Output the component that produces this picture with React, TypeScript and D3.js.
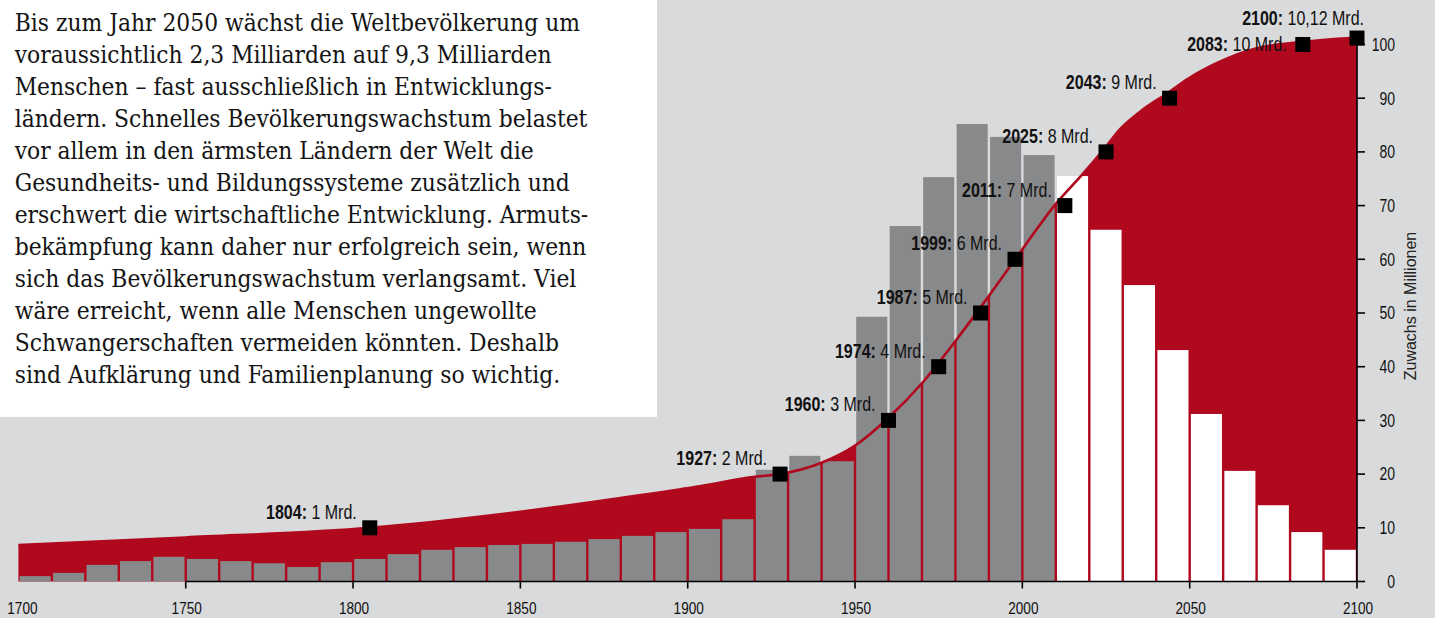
import { useEffect } from 'react';
import * as d3 from 'd3';

// Jährlicher Zuwachs je Jahrzehnt (Mio.), ab 2010 Projektion
const decades = [
  1700, 1710, 1720, 1730, 1740, 1750, 1760, 1770, 1780, 1790,
  1800, 1810, 1820, 1830, 1840, 1850, 1860, 1870, 1880, 1890,
  1900, 1910, 1920, 1930, 1940, 1950, 1960, 1970, 1980, 1990,
  2000, 2010, 2020, 2030, 2040, 2050, 2060, 2070, 2080, 2090,
];
const growth = [
  1.0, 1.6, 3.1, 3.8, 4.6, 4.2, 3.8, 3.4, 2.7, 3.6,
  4.2, 5.1, 5.9, 6.4, 6.8, 7.0, 7.4, 7.9, 8.5, 9.2,
  9.8, 11.6, 20.8, 23.4, 22.4, 49.3, 66.2, 75.3, 85.2, 82.8,
  79.4, 75.5, 65.5, 55.2, 43.1, 31.2, 20.6, 14.2, 9.2, 5.9,
];
const projectionStart = 2010;

// Weltbevölkerung (Mrd.)
const popYears = [
  1700, 1750, 1805, 1850, 1886, 1904, 1920, 1927.6, 1940, 1950, 1960,
  1970.4, 1979.9, 1989.8, 1999.8, 2009.7, 2018.2, 2025, 2029, 2035,
  2044, 2049, 2058, 2070, 2081, 2100,
];
const popValues = [
  0.68, 0.82, 1.0, 1.3, 1.61, 1.78, 1.95, 2.0, 2.21, 2.53, 3.05,
  3.72, 4.47, 5.3, 6.17, 7.01, 7.6, 8.1, 8.41, 8.74,
  9.12, 9.34, 9.65, 9.93, 10.03, 10.13,
];

// Meilensteine
const milestoneYears = ['1804', '1927', '1960', '1974', '1987', '1999', '2011', '2025', '2043', '2083', '2100'];
const milestoneText = ['1 Mrd.', '2 Mrd.', '3 Mrd.', '4 Mrd.', '5 Mrd.', '6 Mrd.', '7 Mrd.', '8 Mrd.', '9 Mrd.', '10 Mrd.', '10,12 Mrd.'];
const milestonePop = [1, 2, 3, 4, 5, 6, 7, 8, 9, 10, 10.12];
const markerAt = [1805, 1927.6, 1960, 1975, 1987.5, 1997.8, 2012.7, 2025, 2044, 2083.8, 2100];

const xTicks = [1700, 1750, 1800, 1850, 1900, 1950, 2000, 2050, 2100];
const yTicks = [0, 10, 20, 30, 40, 50, 60, 70, 80, 90, 100];
const yTitle = 'Zuwachs in Millionen';

const paragraph = [
  'Bis zum Jahr 2050 wächst die Weltbevölkerung um',
  'voraussichtlich 2,3 Milliarden auf 9,3 Milliarden',
  'Menschen – fast ausschließlich in Entwicklungs-',
  'ländern. Schnelles Bevölkerungswachstum belastet',
  'vor allem in den ärmsten Ländern der Welt die',
  'Gesundheits- und Bildungssysteme zusätzlich und',
  'erschwert die wirtschaftliche Entwicklung. Armuts-',
  'bekämpfung kann daher nur erfolgreich sein, wenn',
  'sich das Bevölkerungswachstum verlangsamt. Viel',
  'wäre erreicht, wenn alle Menschen ungewollte',
  'Schwangerschaften vermeiden könnten. Deshalb',
  'sind Aufklärung und Familienplanung so wichtig.',
];

const W = 1435;
const H = 618;
const RED = '#b0091e';
const GREY = '#88898b';
const BG = '#d9dadc';
const SANS = "'Liberation Sans', Arial, sans-serif";
const SERIF = "'DejaVu Serif Condensed', 'DejaVu Serif', serif";
const NARROW = 0.8; // schmale Grotesk nachbilden

export default function App() {
  useEffect(() => {
    document.body.style.margin = '0';
  }, []);

  const x = d3.scaleLinear().domain([1700, 2100]).range([18.4, 1357]);
  const y = d3.scaleLinear().domain([0, 100]).range([581.5, 44.5]);
  const baseY = y(0);
  const pts: [number, number][] = popYears.map((yr, i) => [yr, popValues[i] * 10]);

  const area = d3.area<[number, number]>()
    .x(d => x(d[0]))
    .y0(baseY)
    .y1(d => y(d[1]))
    .curve(d3.curveMonotoneX);
  const line = d3.line<[number, number]>()
    .x(d => x(d[0]))
    .y(d => y(d[1]))
    .curve(d3.curveMonotoneX);

  const gap = 2.4;
  const mk = 15;

  const labelPos = (i: number, mx: number, my: number) => {
    if (milestoneYears[i] === '2100') return { x: mx + 7, y: my - 13 };
    if (milestoneYears[i] === '2083') return { x: mx - 16, y: my + 6 };
    return { x: mx - 13, y: my - 9 };
  };

  return (
    <svg width={W} height={H} style={{ position: 'absolute', left: 0, top: 0, background: BG }}>
      <rect width={W} height={H} fill={BG} />

      {/* Textkasten */}
      <rect x={0} y={0} width={657} height={417} fill="#fff" />
      <g fontFamily={SERIF} fontSize={24.3} fill="#141414" style={{ fontStretch: 'condensed' }}>
        {paragraph.map((t, i) => (
          <text key={i} x={14.7} y={30.5 + i * 32}>{t}</text>
        ))}
      </g>

      {/* Bevölkerungsfläche */}
      <path d={area(pts) ?? ''} fill={RED} />

      {/* Balken */}
      {decades.map((d, i) => (
        <rect
          key={d}
          x={x(d) + gap / 2}
          y={y(growth[i])}
          width={x(d + 10) - x(d) - gap}
          height={baseY - y(growth[i])}
          fill={d >= projectionStart ? '#fff' : GREY}
        />
      ))}

      {/* Kurve */}
      <path d={line(pts) ?? ''} fill="none" stroke={RED} strokeWidth={2.6} />

      {/* x-Achse */}
      <line x1={x(1750)} x2={x(2100)} y1={baseY} y2={baseY} stroke="#000" strokeWidth={1.6} />
      {xTicks.map(t => (
        <g key={t}>
          {t !== 1700 && <line x1={x(t)} x2={x(t)} y1={baseY} y2={baseY + 7} stroke="#000" strokeWidth={1.6} />}
          <text
            transform={`translate(${x(t) + (t === 1700 ? 4 : 1)},614) scale(${NARROW},1)`}
            textAnchor="middle"
            fontFamily={SANS}
            fontSize={17}
            fill="#111"
          >
            {t}
          </text>
        </g>
      ))}

      {/* y-Achse rechts */}
      <line x1={x(2100)} x2={x(2100)} y1={y(101)} y2={baseY} stroke="#000" strokeWidth={1.6} />
      {yTicks.map(t => (
        <g key={t}>
          <line x1={x(2100)} x2={x(2100) + 8} y1={y(t)} y2={y(t)} stroke="#000" strokeWidth={1.6} />
          <text
            transform={`translate(1395,${y(t)}) scale(${NARROW},1)`}
            dy="0.36em"
            textAnchor="end"
            fontFamily={SANS}
            fontSize={17.5}
            fill="#111"
          >
            {t}
          </text>
        </g>
      ))}
      <text
        transform="translate(1416,306) rotate(-90)"
        textAnchor="middle"
        fontFamily={SANS}
        fontSize={16}
        fill="#222"
      >
        {yTitle}
      </text>

      {/* Marker + Beschriftungen */}
      {milestoneYears.map((lab, i) => {
        const mx = x(markerAt[i]);
        const my = y(milestonePop[i] * 10);
        const p = labelPos(i, mx, my);
        return (
          <g key={lab}>
            <rect x={mx - mk / 2} y={my - mk / 2} width={mk} height={mk} fill="#000" />
            <text
              transform={`translate(${p.x},${p.y}) scale(${NARROW},1)`}
              textAnchor="end"
              fontFamily={SANS}
              fontSize={20}
              fill="#111"
            >
              <tspan fontWeight="bold">{lab}:</tspan> {milestoneText[i]}
            </text>
          </g>
        );
      })}
    </svg>
  );
}
